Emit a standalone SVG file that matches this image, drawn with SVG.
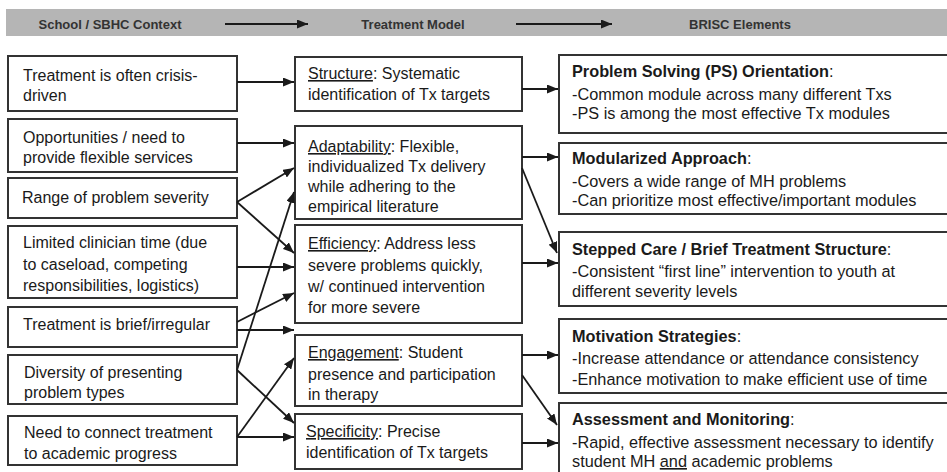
<svg xmlns="http://www.w3.org/2000/svg" width="947" height="472" viewBox="0 0 947 472">
<style>
.box{fill:#fff;stroke:#333;stroke-width:2}
.t{font-family:"Liberation Sans",Arial,sans-serif;font-size:16px;fill:#1a1a1a}
.r{font-size:16.3px}
.h{font-family:"Liberation Sans",Arial,sans-serif;font-size:13px;font-weight:bold;fill:#333}
.b{font-weight:bold}
.u{text-decoration:underline}
.c{stroke:#1a1a1a;stroke-width:1.8;fill:none;marker-end:url(#ah)}
</style>
<defs>
<marker id="ah" markerUnits="userSpaceOnUse" markerWidth="11" markerHeight="9" refX="11" refY="4.5" orient="auto">
<path d="M0,0 L11,4.5 L0,9 z" fill="#1a1a1a"/>
</marker>
</defs>
<rect width="947" height="472" fill="#fff"/>
<g id="header">
<rect x="6" y="9" width="941" height="27" fill="#b5b5b5"/>
<text class="h" x="110" y="29" text-anchor="middle">School / SBHC Context</text>
<text class="h" x="413" y="29" text-anchor="middle">Treatment Model</text>
<text class="h" x="740" y="29" text-anchor="middle">BRISC Elements</text>
<line class="c" x1="225" y1="24" x2="308" y2="24" stroke-width="2.2"/>
<line class="c" x1="516" y1="24" x2="612" y2="24" stroke-width="2.2"/>
</g>
<g id="left">
<g id="L1"><rect class="box" x="8" y="56" width="229" height="55"/><text class="t" x="23" y="81">Treatment is often crisis-</text><text class="t" x="23" y="101">driven</text></g>
<g id="L2"><rect class="box" x="8" y="119" width="229" height="53"/><text class="t" x="23" y="143">Opportunities / need to</text><text class="t" x="23" y="163">provide flexible services</text></g>
<g id="L3"><rect class="box" x="8" y="178" width="229" height="40"/><text class="t" x="22" y="203">Range of problem  severity</text></g>
<g id="L4"><rect class="box" x="8" y="226" width="229" height="72"/><text class="t" x="23" y="248">Limited clinician time (due</text><text class="t" x="23" y="270">to caseload, competing</text><text class="t" x="23" y="291">responsibilities, logistics)</text></g>
<g id="L5"><rect class="box" x="8" y="307" width="229" height="40"/><text class="t" x="23" y="330">Treatment is brief/irregular</text></g>
<g id="L6"><rect class="box" x="8" y="355" width="229" height="49"/><text class="t" x="24" y="378">Diversity of  presenting</text><text class="t" x="24" y="398">problem types</text></g>
<g id="L7"><rect class="box" x="8" y="416" width="229" height="49"/><text class="t" x="24" y="438">Need to connect treatment</text><text class="t" x="24" y="459">to academic progress</text></g>
</g>
<g id="middle">
<g id="M1"><rect class="box" x="295" y="57" width="227" height="54"/><text class="t" x="308" y="79"><tspan class="u">Structure</tspan>: Systematic</text><text class="t" x="308" y="100">identification of Tx targets</text></g>
<g id="M2"><rect class="box" x="295" y="126" width="227" height="93"/><text class="t" x="308" y="152"><tspan class="u">Adaptability</tspan>: Flexible,</text><text class="t" x="308" y="172">individualized Tx delivery</text><text class="t" x="308" y="192">while adhering to the</text><text class="t" x="308" y="212">empirical literature</text></g>
<g id="M3"><rect class="box" x="295" y="225" width="227" height="98"/><text class="t" x="308" y="249"><tspan class="u">Efficiency</tspan>: Address less</text><text class="t" x="308" y="271">severe problems quickly,</text><text class="t" x="308" y="292">w/ continued intervention</text><text class="t" x="308" y="313">for more severe</text></g>
<g id="M4"><rect class="box" x="295" y="335" width="227" height="71"/><text class="t" x="308" y="358"><tspan class="u">Engagement</tspan>: Student</text><text class="t" x="308" y="380">presence and participation</text><text class="t" x="308" y="400">in therapy</text></g>
<g id="M5"><rect class="box" x="295" y="414" width="227" height="55"/><text class="t" x="306" y="437"><tspan class="u">Specificity</tspan>: Precise</text><text class="t" x="306" y="458">identification of Tx targets</text></g>
</g>
<g id="right">
<g id="R1"><rect class="box" x="559" y="55" width="400" height="78"/><text class="t r" x="572" y="77"><tspan class="b">Problem Solving (PS) Orientation</tspan>:</text><text class="t r" x="572" y="100">-Common module across many different Txs</text><text class="t r" x="572" y="119">-PS is among the most effective Tx modules</text></g>
<g id="R2"><rect class="box" x="559" y="143" width="400" height="71"/><text class="t r" x="572" y="164"><tspan class="b">Modularized Approach</tspan>:</text><text class="t r" x="572" y="187">-Covers a wide range of MH problems</text><text class="t r" x="572" y="206">-Can prioritize most effective/important modules</text></g>
<g id="R3"><rect class="box" x="559" y="232" width="400" height="74"/><text class="t r" x="572" y="255"><tspan class="b">Stepped Care / Brief Treatment Structure</tspan>:</text><text class="t r" x="572" y="277">-Consistent “first line” intervention to youth at</text><text class="t r" x="572" y="297">different severity levels</text></g>
<g id="R4"><rect class="box" x="559" y="319" width="400" height="74"/><text class="t r" x="572" y="342"><tspan class="b">Motivation Strategies</tspan>:</text><text class="t r" x="572" y="364">-Increase attendance or attendance consistency</text><text class="t r" x="572" y="385">-Enhance motivation to make efficient use of time</text></g>
<g id="R5"><rect class="box" x="559" y="403" width="400" height="80"/><text class="t r" x="572" y="425"><tspan class="b">Assessment and Monitoring</tspan>:</text><text class="t r" x="572" y="448">-Rapid, effective assessment necessary to identify</text><text class="t r" x="572" y="467">student MH <tspan class="u">and</tspan> academic problems</text></g>
</g>
<g id="connectors">
<line class="c" x1="237" y1="82" x2="294" y2="82"/>
<line class="c" x1="237" y1="143" x2="294" y2="143"/>
<line class="c" x1="237" y1="202" x2="294" y2="168"/>
<line class="c" x1="237" y1="202" x2="294" y2="253"/>
<line class="c" x1="237" y1="370" x2="294" y2="192"/>
<line class="c" x1="237" y1="267" x2="294" y2="267"/>
<line class="c" x1="237" y1="322" x2="294" y2="293"/>
<line class="c" x1="237" y1="330" x2="294" y2="330"/>
<line class="c" x1="237" y1="370" x2="294" y2="423"/>
<line class="c" x1="237" y1="437" x2="294" y2="358"/>
<line class="c" x1="237" y1="437" x2="294" y2="437"/>
<line class="c" x1="522" y1="89" x2="558" y2="89"/>
<line class="c" x1="522" y1="157" x2="558" y2="157"/>
<line class="c" x1="522" y1="168" x2="557" y2="253"/>
<line class="c" x1="522" y1="263" x2="558" y2="263"/>
<line class="c" x1="522" y1="355" x2="558" y2="355"/>
<line class="c" x1="522" y1="375" x2="557" y2="425"/>
<line class="c" x1="522" y1="443" x2="558" y2="443"/>
</g>
</svg>
